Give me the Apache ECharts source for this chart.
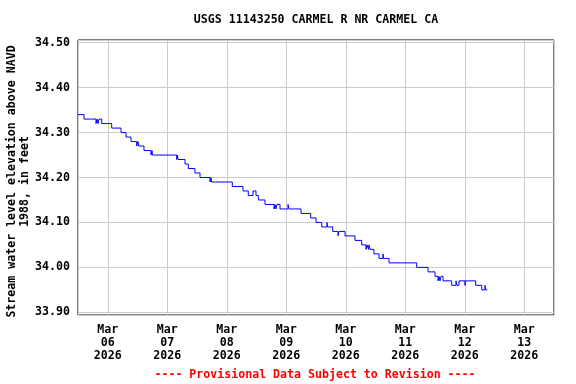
<!DOCTYPE html>
<html>
<head>
<meta charset="utf-8">
<script src="https://cdn.jsdelivr.net/npm/echarts@6/dist/echarts.min.js"></script>
<style>
html,body{margin:0;padding:0;background:#fff;}
#chart{width:576px;height:384px;}
</style>
</head>
<body>
<div id="chart"></div>
<script>
const chartTitle = 'USGS 11143250 CARMEL R NR CARMEL CA';
const yAxisName = 'Stream water level elevation above NAVD\n1988, in feet';
const footnote = '---- Provisional Data Subject to Revision ----';
const monthNames = ['Jan','Feb','Mar','Apr','May','Jun','Jul','Aug','Sep','Oct','Nov','Dec'];
const xMin = '2026-03-05 12:00';
const xMax = '2026-03-13 12:00';
const yMin = 33.894;
const yMax = 34.506;

const times = [
  '2026-03-05 12:00','2026-03-05 14:25','2026-03-05 19:16','2026-03-05 19:40','2026-03-05 20:04','2026-03-05 20:28','2026-03-05 21:34',
  '2026-03-06 01:35','2026-03-06 05:21','2026-03-06 07:22','2026-03-06 09:23','2026-03-06 11:41','2026-03-06 12:12','2026-03-06 12:29',
  '2026-03-06 14:37','2026-03-06 17:27','2026-03-06 17:51','2026-03-06 18:03',
  '2026-03-07 03:49','2026-03-07 04:08','2026-03-07 04:20','2026-03-07 07:10','2026-03-07 08:29','2026-03-07 11:11','2026-03-07 13:13',
  '2026-03-07 17:14','2026-03-07 17:39','2026-03-07 17:51',
  '2026-03-08 02:14','2026-03-08 06:33','2026-03-08 08:41','2026-03-08 10:35','2026-03-08 11:48','2026-03-08 12:44','2026-03-08 15:26',
  '2026-03-08 19:04','2026-03-08 19:28','2026-03-08 19:52','2026-03-08 20:16','2026-03-08 21:29',
  '2026-03-09 00:43','2026-03-09 01:07','2026-03-09 05:57','2026-03-09 09:52','2026-03-09 12:00','2026-03-09 14:18','2026-03-09 16:26',
  '2026-03-09 16:38','2026-03-09 18:44','2026-03-09 20:52','2026-03-09 21:17','2026-03-09 23:42',
  '2026-03-10 03:44','2026-03-10 06:26','2026-03-10 08:10','2026-03-10 08:34','2026-03-10 09:11','2026-03-10 09:23','2026-03-10 09:47',
  '2026-03-10 11:23','2026-03-10 13:25','2026-03-10 15:02','2026-03-10 15:14','2026-03-10 17:27',
  '2026-03-11 04:37','2026-03-11 09:11','2026-03-11 12:00','2026-03-11 13:13','2026-03-11 13:37','2026-03-11 14:01','2026-03-11 14:25',
  '2026-03-11 15:14','2026-03-11 18:44','2026-03-11 20:28','2026-03-11 20:52','2026-03-11 21:41',
  '2026-03-12 00:06','2026-03-12 00:18','2026-03-12 04:25','2026-03-12 06:50','2026-03-12 08:10','2026-03-12 08:22','2026-03-12 09:06'
];
const values = [
  34.34,34.33,34.32,34.33,34.32,34.33,34.32,
  34.31,34.30,34.29,34.28,34.27,34.28,34.27,
  34.26,34.25,34.26,34.25,
  34.24,34.25,34.24,34.23,34.22,34.21,34.20,
  34.19,34.20,34.19,
  34.18,34.17,34.16,34.17,34.16,34.15,34.14,
  34.13,34.14,34.13,34.14,34.13,
  34.14,34.13,34.12,34.11,34.10,34.09,34.10,
  34.09,34.08,34.07,34.08,34.07,
  34.06,34.05,34.04,34.05,34.04,34.05,34.04,
  34.03,34.02,34.03,34.02,34.01,
  34.00,33.99,33.98,33.97,33.98,33.97,33.98,
  33.97,33.96,33.97,33.96,33.97,
  33.96,33.97,33.96,33.95,33.96,33.95,33.95
];

const font = 'DejaVu Sans Mono';
const chart = echarts.init(document.getElementById('chart'), null, {renderer: 'canvas'});
const pad = n => (n < 10 ? '0' : '') + n;

chart.setOption({
  animation: false,
  backgroundColor: '#ffffff',
  grid: {left: 78, right: 22, top: 40, bottom: 69, containLabel: false, outerBoundsMode: 'none', show: true, borderColor: '#000000', borderWidth: 1, backgroundColor: 'transparent'},
  graphic: [
    {type: 'text', x: 316, y: 20, style: {text: chartTitle, fill: '#000', font: 'bold 11.6px "' + font + '"', align: 'center', verticalAlign: 'middle'}},
    {type: 'text', x: 315, y: 375, style: {text: footnote, fill: '#ff0000', font: 'bold 11.6px "' + font + '"', align: 'center', verticalAlign: 'middle'}}
  ],
  xAxis: {
    type: 'time',
    min: xMin,
    max: xMax,
    minInterval: 86400000,
    maxInterval: 86400000,
    axisLine: {show: false},
    axisTick: {show: false},
    splitLine: {show: true, lineStyle: {color: '#cccccc', width: 1}},
    axisLabel: {
      margin: 8,
      color: '#000',
      fontFamily: font,
      fontWeight: 'bold',
      fontSize: 11.6,
      lineHeight: 13,
      hideOverlap: false,
      formatter: function (v) {
        const d = new Date(v);
        if (d.getHours() !== 0 || d.getMinutes() !== 0) return '';
        return monthNames[d.getMonth()] + '\n' + pad(d.getDate()) + '\n' + d.getFullYear();
      }
    }
  },
  yAxis: {
    type: 'value',
    min: yMin,
    max: yMax,
    splitNumber: 6,
    name: yAxisName,
    nameLocation: 'middle',
    nameGap: 47,
    nameMoveOverlap: false,
    nameTextStyle: {color: '#000', fontFamily: font, fontWeight: 'bold', fontSize: 11.6, lineHeight: 13, align: 'center', padding: [0, 8, 0, 0]},
    axisLine: {show: false},
    axisTick: {show: false},
    splitLine: {show: true, lineStyle: {color: '#cccccc', width: 1}},
    axisLabel: {
      margin: 8,
      color: '#000',
      fontFamily: font,
      fontWeight: 'bold',
      fontSize: 11.6,
      showMinLabel: false,
      showMaxLabel: false,
      formatter: function (v) { return v.toFixed(2); }
    }
  },
  series: [{
    type: 'line',
    step: 'end',
    showSymbol: false,
    symbol: 'none',
    lineStyle: {color: '#0000ff', width: 1},
    data: times.map((t, i) => [t, values[i]])
  }]
});
</script>
</body>
</html>
